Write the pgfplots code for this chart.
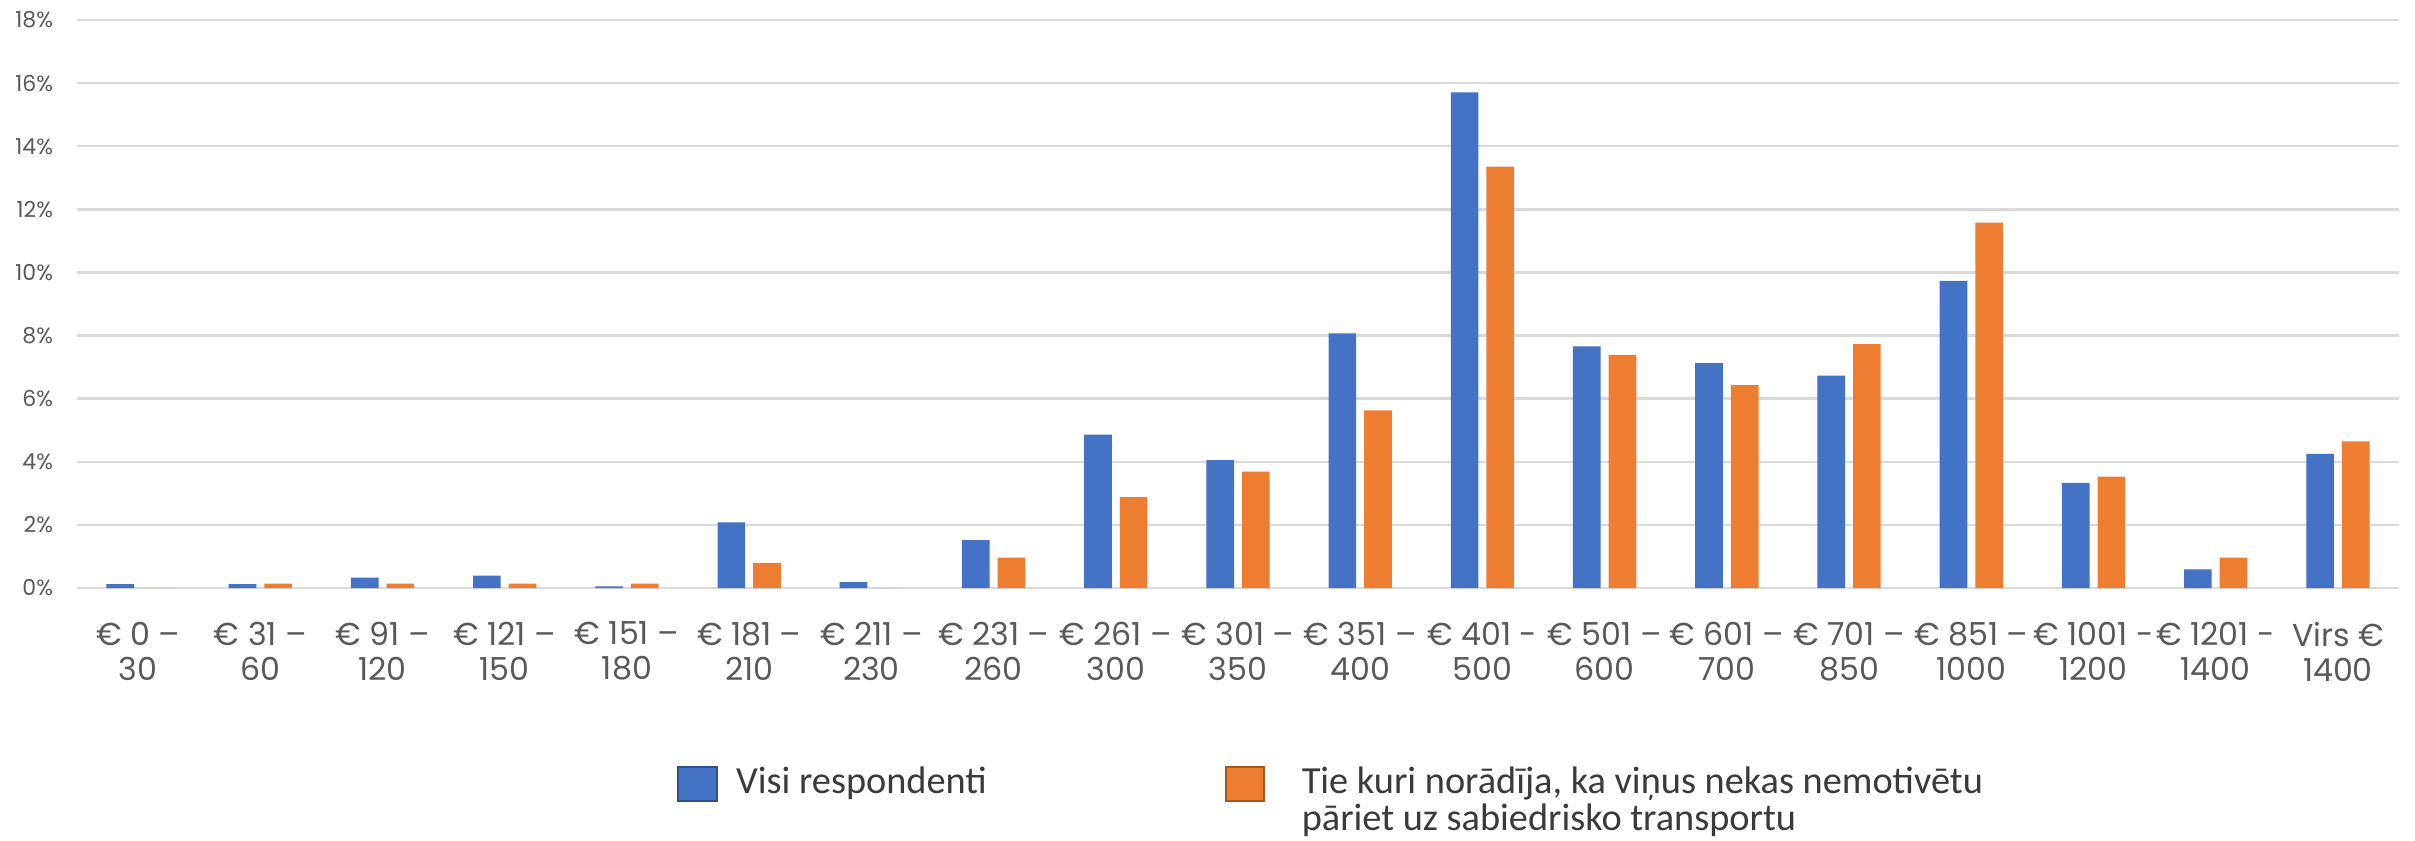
\documentclass[border=0pt]{standalone}
\usepackage{pgfplots}
\pgfplotsset{compat=1.18}
\usepackage{fontspec}
\setmainfont{Poppins}
\newfontfamily\legfont{Carlito}
\definecolor{cblue}{HTML}{4472C4}
\definecolor{corange}{HTML}{ED7D31}
\definecolor{gridc}{HTML}{D9D9D9}
\definecolor{tickc}{HTML}{595959}
\definecolor{legc}{HTML}{3A3A3A}
\begin{document}
\begin{tikzpicture}
\begin{axis}[name=ax, at={(0,0)}, anchor=south west, scale only axis,
 width=696.6pt, height=170.4pt,
 ymin=0, ymax=18, ytick={0,2,...,18},
 xmin=-0.5, xmax=18.5, xtick={0,...,18},
 xticklabels={{€ 0 –\\30},{€ 31 –\\60},{€ 91 –\\120},{€ 121 –\\150},{€ 151 –\\180},{€ 181 –\\210},{€ 211 –\\230},{€ 231 –\\260},{€ 261 –\\300},{€ 301 –\\350},{€ 351 –\\400},{€ 401 -\\500},{€ 501 –\\600},{€ 601 –\\700},{€ 701 –\\850},{€ 851 –\\1000},{€ 1001 -\\1200},{€ 1201 -\\1400},{Virs €\\1400}},
 ybar=2.4pt, bar width=8.3pt,
 ymajorgrids, grid style={gridc, line width=0.75pt},
 axis line style={draw=none}, major tick length=0pt,
 yticklabel={\pgfmathprintnumber{\tick}\%},
 /pgf/number format/assume math mode=true,
 yticklabel style={font=\fontsize{6.6}{7}\selectfont, text=tickc, anchor=east, inner sep=0pt, xshift=-7pt},
 xticklabel style={font=\fontsize{9.5}{10.5}\selectfont, text=tickc, align=center, anchor=north, inner sep=0pt, yshift=-10pt},
 legend columns=2,
 legend style={draw=none, fill=none, at={(0.2540,-0.2894)}, anchor=north west,
   font=\legfont\fontsize{11.5}{10.5}\selectfont, text=legc,
   /tikz/every odd column/.append style={column sep=0pt},
   cells={inner sep=0pt, anchor=base west}},
]
\addplot[fill=cblue, draw=none, legend image code/.code={\draw[fill=cblue, draw=cblue!70!black, line width=0.6pt] (0pt,-2.3pt) rectangle (11.6pt,7.9pt);}] coordinates {
(0,0.12) (1,0.12) (2,0.33) (3,0.39) (4,0.05) (5,2.08) (6,0.19) (7,1.52) (8,4.86) (9,4.05) (10,8.07) (11,15.71) (12,7.66) (13,7.13) (14,6.73) (15,9.73) (16,3.33) (17,0.59) (18,4.25)};
\addlegendentry{\makebox[148pt][l]{\hspace{3.4pt}Visi respondenti}}
\addplot[fill=corange, draw=none, legend image code/.code={\draw[fill=corange, draw=corange!70!black, line width=0.6pt] (0pt,-2.3pt) rectangle (11.6pt,7.9pt);}] coordinates {
(0,0) (1,0.14) (2,0.14) (3,0.14) (4,0.14) (5,0.80) (6,0) (7,0.96) (8,2.88) (9,3.69) (10,5.63) (11,13.35) (12,7.39) (13,6.43) (14,7.73) (15,11.58) (16,3.53) (17,0.96) (18,4.65)};
\addlegendentry{\begin{tabular}[t]{@{\hspace{8.9pt}}l@{}}Tie kuri norādīja, ka viņus nekas nemotivētu\\pāriet uz sabiedrisko transportu\end{tabular}}
\end{axis}
\pgfresetboundingbox
\path (ax.south west) ++(-23.1pt,-75.6pt) rectangle ++(724.5pt,252pt);
\end{tikzpicture}
\end{document}
